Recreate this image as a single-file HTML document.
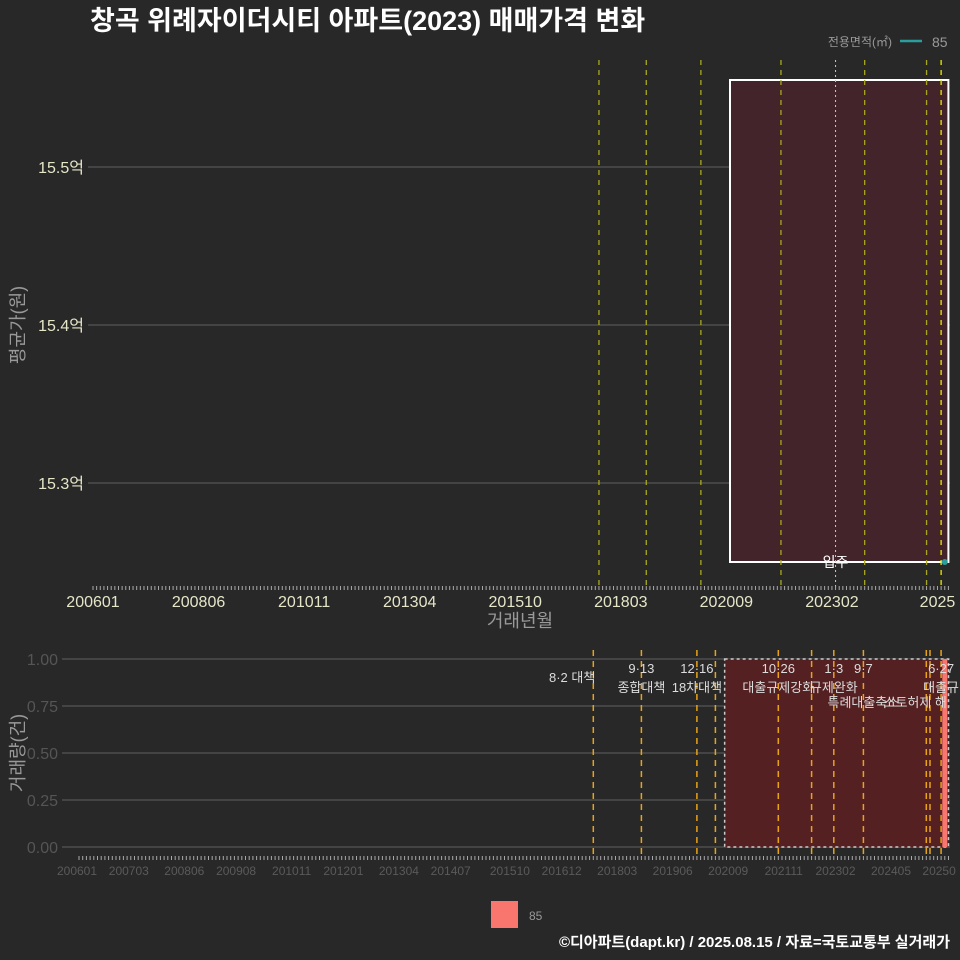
<!DOCTYPE html>
<html><head><meta charset="utf-8"><style>
html,body{margin:0;padding:0;background:#282828;}
svg{display:block;font-family:"Liberation Sans","Noto Sans CJK KR",sans-serif;}
</style></head><body>
<svg id="c" width="960" height="960" xmlns="http://www.w3.org/2000/svg">
<rect width="960" height="960" fill="#282828"/>
<text x="90" y="30" fill="#ffffff" font-size="27" font-weight="bold">창곡 위례자이더시티 아파트(2023) 매매가격 변화</text>
<g id="gtop"></g><g id="gbot"></g>
<text x="892" y="46" fill="#999" font-size="12" text-anchor="end">전용면적(㎡)</text>
<line x1="900" y1="41" x2="922" y2="41" stroke="#2a9d9d" stroke-width="2.5"/>
<text x="932" y="47" fill="#999" font-size="14">85</text>
<text x="520" y="627" fill="#999" font-size="18" text-anchor="middle">거래년월</text>
<text transform="translate(24,325) rotate(-90)" fill="#999" font-size="18" text-anchor="middle">평균가(원)</text>
<text transform="translate(24,753) rotate(-90)" fill="#999" font-size="18" text-anchor="middle">거래량(건)</text>
<rect x="491" y="901" width="27" height="27" fill="#f8766d"/>
<text x="529" y="920" fill="#999" font-size="12">85</text>
<text x="950" y="947" fill="#fff" font-size="15" font-weight="bold" text-anchor="end">©디아파트(dapt.kr) / 2025.08.15 / 자료=국토교통부 실거래가</text>
</svg>
<script>
// data (month index = (year-2006)*12 + month-1)
const priceMonths = [234];
const priceValues = [15.25];
const volMonths = [234];
const volValues = [1];
const topTicks = ["200601","200806","201011","201304","201510","201803","202009","202302","2025"];
const topTickMonths = [0,29,58,87,116,145,174,203,232];
const botTicks = ["200601","200703","200806","200908","201011","201201","201304","201407","201510","201612","201803","201906","202009","202111","202302","202405","20250"];
const botTickMonths = [0,14,29,43,58,72,87,101,117,131,146,161,176,191,205,220,233];
const priceTicks = [15.3,15.4,15.5];
const volTicks = [0,0.25,0.5,0.75,1];
const topPolicyMonths = [139,152,167,189,204,212,229,233];
const botPolicyMonths = [139,152,167,172,189,198,204,212,229,230,233];
const policyLabels = [["8·2 대책",139,"",0],["9·13",152,"종합대책",0],["12·16",167,"18차대책",0],["10·26",189,"대출규제강화",0],["1·3",204,"규제완화",0],["9·7",212,"특례대출축소",1],["6·27",233,"대출규",0]];
const regionStartMonth = 175, regionEndMonth = 235;

const NS="http://www.w3.org/2000/svg";
function mk(parent,tag,attrs,txt){const e=document.createElementNS(NS,tag);for(const k in attrs)e.setAttribute(k,attrs[k]);if(txt!==undefined)e.textContent=txt;parent.appendChild(e);return e;}
const xT=m=>93+m*3.64, yT=v=>483-(v-15.3)*1580;
const xB=m=>79+m*3.7, yB=v=>847-v*188;
const gTop=document.getElementById('gtop'), gBot=document.getElementById('gbot');

priceTicks.forEach(v=>{
  const l=mk(gTop,'line',{x1:88,x2:950,y1:yT(v),y2:yT(v),stroke:'#555','stroke-width':1.2});
  
  
  const t=mk(gTop,'text',{x:84,y:yT(v)+6,fill:'#e6e6c8','font-size':16,'text-anchor':'end'},v.toFixed(1)+'억');
  
  
});
const r=mk(gTop,'rect',{x:xT(regionStartMonth),y:80,width:xT(regionEndMonth)-xT(regionStartMonth),height:yT(15.25)-80,fill:'#42242a',stroke:'#fff','stroke-width':2});


topPolicyMonths.forEach(m=>{
  const white = m===204;
  const l=mk(gTop,'line',{x1:xT(m),x2:xT(m),y1:60,y2:590,stroke:white?'#ccc':(m===233?'#e8e800':'#a8a820'),'stroke-width':white?1:1.3,'stroke-dasharray':white?'2,3':'5,5'});
  
  
});
const lab=mk(gTop,'text',{x:xT(204),y:567,fill:'#fff','font-size':14,'text-anchor':'middle'},'입주');


priceMonths.forEach((m,i)=>{
  const c=mk(gTop,'circle',{cx:xT(m),cy:yT(priceValues[i]),r:3,fill:'#2a9d9d'});
  
  
});
for(let m=0;m<=235;m++){mk(gTop,'line',{x1:xT(m),x2:xT(m),y1:586,y2:590,stroke:'#aaa','stroke-width':1});}
topTicks.forEach((s,i)=>{
  const t=mk(gTop,'text',{x:xT(topTickMonths[i]),y:607,fill:'#e6e6c8','font-size':16,'text-anchor':'middle'},s);
  
  
});

volTicks.forEach(v=>{
  const l=mk(gBot,'line',{x1:62,x2:950,y1:yB(v),y2:yB(v),stroke:'#555','stroke-width':1.2});
  
  
  const t=mk(gBot,'text',{x:58,y:yB(v)+6,fill:'#555','font-size':16,'text-anchor':'end'},v.toFixed(2));
  
  
});
const r2=mk(gBot,'rect',{x:xB(regionStartMonth-0.5),y:yB(1),width:xB(regionEndMonth)-xB(regionStartMonth-0.5),height:yB(0)-yB(1),fill:'#552022',stroke:'#ccc','stroke-width':1.5,'stroke-dasharray':'3,3'});


botPolicyMonths.forEach(m=>{
  const l=mk(gBot,'line',{x1:xB(m),x2:xB(m),y1:650,y2:857,stroke:'#e8a317','stroke-width':1.5,'stroke-dasharray':'6,5'});
  
  
});
volMonths.forEach((m,i)=>{
  const b=mk(gBot,'rect',{x:xB(m)-2.5,y:yB(volValues[i]),width:5,height:yB(0)-yB(volValues[i]),fill:'#f8766d'});
  
  
});
policyLabels.forEach(p=>{
  const [a,m,b,off]=p;
  const single = b==="";
  const t=mk(gBot,'text',{x:xB(m)-(single?-2:0),y:single?682:673,fill:'#ddd','font-size':13,'text-anchor':single?'end':'middle'},a);
  
  
  if(!single){
    const t2=mk(gBot,'text',{x:xB(m),y:off?707:692,fill:'#ddd','font-size':13,'text-anchor':'middle'},b);
    
    
  }
});
const extra=mk(gBot,'text',{x:xB(226),y:707,fill:'#ddd','font-size':13,'text-anchor':'middle'},'소토허제 해');


for(let m=0;m<=235;m++){mk(gBot,'line',{x1:xB(m),x2:xB(m),y1:856,y2:860,stroke:'#aaa','stroke-width':1});}
botTicks.forEach((s,i)=>{
  const t=mk(gBot,'text',{x:xB(botTickMonths[i])-2,y:875,fill:'#5a5a5a','font-size':12,'text-anchor':'middle'},s);
  
  
});
</script>
</body></html>
